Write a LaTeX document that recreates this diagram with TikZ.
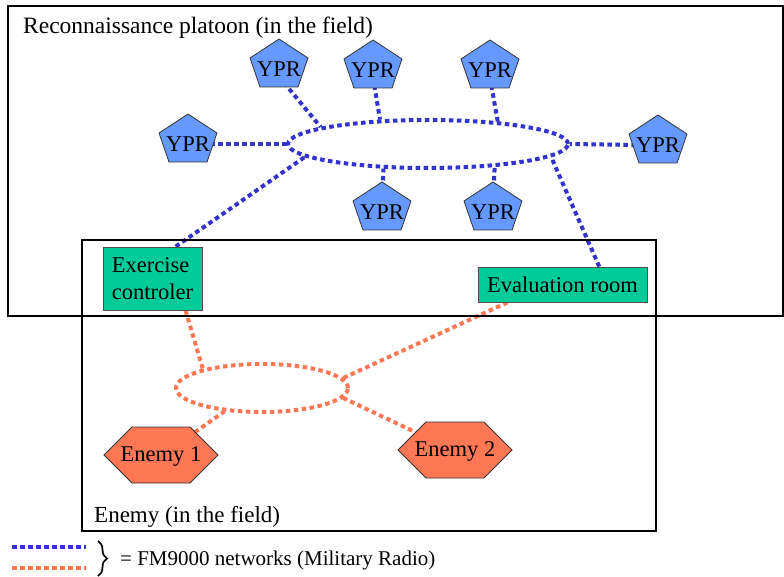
\documentclass[tikz,border=0pt]{standalone}
\usepackage{fontspec}
\setmainfont{Liberation Serif}
\usetikzlibrary{decorations.pathreplacing,shapes.geometric}
\definecolor{netblue}{HTML}{3333CC}
\definecolor{pentblue}{HTML}{6699FF}
\definecolor{boxgreen}{HTML}{00CC99}
\definecolor{enemyred}{HTML}{FF7755}
\pgfdeclarelayer{bottom}
\pgfdeclarelayer{background}
\pgfsetlayers{bottom,background,main}
\tikzset{
  frame/.style={draw=black, line width=2pt},
  bnet/.style={draw=netblue, line width=4pt, dash pattern=on 4.5pt off 3.5pt},
  onet/.style={draw=enemyred, line width=4pt, dash pattern=on 4.5pt off 3.5pt},
  pent/.style={fill=pentblue, draw=black!80, line width=0.8pt},
  hexa/.style={fill=enemyred, draw=black!80, line width=0.8pt},
  txt/.style={font=\fontsize{22.5}{26}\selectfont, inner sep=0pt},
  gbox/.style={draw=black!70, fill=boxgreen, line width=0.8pt, inner sep=0pt,
    font=\fontsize{22.5}{27}\selectfont},
}
\newcommand\yprnode[3]{%
  \path[pent] (#2,{#3-30}) -- ({#2+29},{#3-11}) -- ({#2+19},{#3+18})
    -- ({#2-19},{#3+18}) -- ({#2-29},{#3-11}) -- cycle;
  \node[txt] (#1) at (#2,#3) {YPR};}
\newcommand\enemynode[4]{%
  \path[hexa] ({#2-57},#3) -- ({#2-29},{#3-28}) -- ({#2+29},{#3-28})
    -- ({#2+57},#3) -- ({#2+29},{#3+28}) -- ({#2-29},{#3+28}) -- cycle;
  \node[txt] (#1) at (#2,{#3+1}) {#4};}
\begin{document}
\begin{tikzpicture}[x=1pt,y=-1pt]
\useasboundingbox (0,0) rectangle (784,577);
\begin{pgfonlayer}{bottom}
\fill[white] (0,0) rectangle (784,577);
\end{pgfonlayer}
% frames
\draw[frame] (8,6) rectangle (783,316);
\draw[frame] (82,240) rectangle (656,531);
\node[txt, font=\fontsize{23.5}{26}\selectfont, anchor=base west] (title) at (23,34) {Reconnaissance platoon (in the field)};
\node[txt, font=\fontsize{23}{26}\selectfont, anchor=base west] (enlabel) at (94,522) {Enemy (in the field)};
% networks (ellipses)
\node[bnet, ellipse, minimum width=280pt, minimum height=48pt, inner sep=0pt] (bell) at (428,144) {};
\node[onet, ellipse, minimum width=172pt, minimum height=48pt, inner sep=0pt] (oell) at (262,388) {};
% YPR
\yprnode{p1}{279}{69}
\yprnode{p2}{373}{70}
\yprnode{p3}{490}{70}
\yprnode{p4}{188}{144}
\yprnode{p5}{382}{212}
\yprnode{p6}{493}{212}
\yprnode{p7}{658}{145}
% boxes
\node[gbox, minimum width=99pt, minimum height=63pt, align=left] (ex) at (152.5,278.5) {Exercise\\controler};
\node[gbox, minimum width=169pt, minimum height=35pt] (ev) at (562.5,284.5) {Evaluation room};
% enemies
\enemynode{e1}{161}{455}{Enemy 1}
\enemynode{e2}{455}{450}{Enemy 2}
% connectors
\begin{pgfonlayer}{background}
\draw[bnet] (p1.south) -- (bell.171);
\draw[bnet] (p2.south) -- (bell.153);
\draw[bnet] (p3.south) -- (bell.18);
\draw[bnet] (p4.east) -- (bell.west);
\draw[bnet] (p5.north) -- (bell.209);
\draw[bnet] (p6.north) -- (bell.341);
\draw[bnet] (p7.west) -- (bell.east);
\draw[bnet] (ex.54) -- (bell.186);
\draw[bnet] (ev.26) -- (bell.354);
\draw[onet] (ex.316) -- (oell.162);
\draw[onet] (ev.198) -- (oell.7);
\draw[onet] (e1) -- (oell.212);
\draw[onet] (e2) -- (oell.353);
\end{pgfonlayer}
% legend
\coordinate (lb0) at (12,547); \coordinate (lb1) at (86,547);
\coordinate (lo0) at (12,568); \coordinate (lo1) at (86,568);
\draw[bnet] (lb0) -- (lb1);
\draw[onet] (lo0) -- (lo1);
\coordinate (br0) at (98,541); \coordinate (br1) at (98,576);
\draw[decorate, decoration={brace, amplitude=9pt}, line width=1.7pt] (br0) -- (br1);
\node[txt, font=\fontsize{21}{24}\selectfont, anchor=base west] (leg) at (120,565) {= FM9000 networks (Military Radio)};
\end{tikzpicture}
\end{document}
